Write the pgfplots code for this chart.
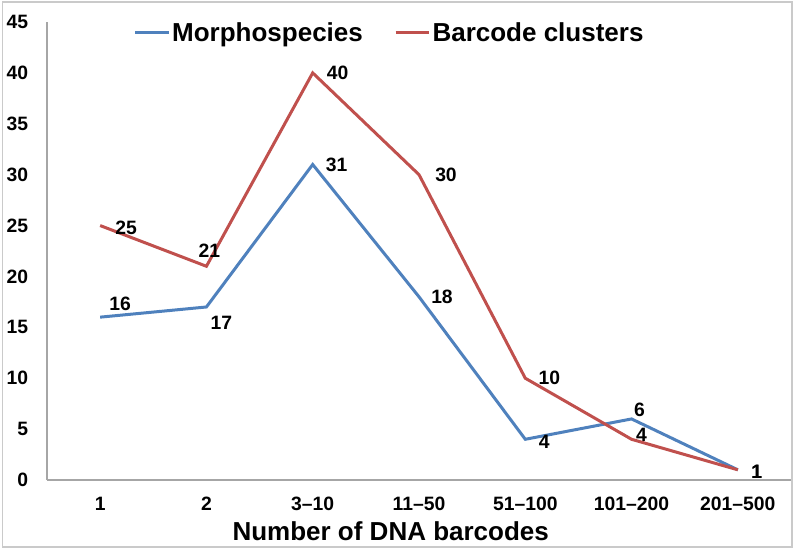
\documentclass[border=0pt]{standalone}
\usepackage{pgfplots}
\usepackage{pgfplotstable}
\pgfplotsset{compat=1.18}
\usepackage{fontspec}
\setmainfont{Liberation Sans}

\definecolor{exblue}{HTML}{4F81BD}
\definecolor{exred}{HTML}{C0504D}
\definecolor{axgray}{HTML}{A6A6A6}

% x = category index, y = count, dx/dy = label offset in pt
\pgfplotstableread{
x y dx dy
0 16 15 9.75
1 17 11.25 -12
2 31 18 0
3 18 17.25 0
4 4 14.25 -2.25
5 6 6 6.75
6 1 14.25 -1.5
}\morpho

\pgfplotstableread{
x y dx dy
0 25 19.5 -1.5
1 21 2.25 12
2 40 18.75 0
3 30 20.25 0
4 10 18 0
5 4 7.5 3
6 1 14.25 -1.5
}\barcode

\begin{document}
\begin{tikzpicture}
\useasboundingbox (0,0) rectangle (596.25pt,412.5pt);
\draw[axgray!60, line width=0.9pt] (2pt,2.25pt) rectangle (594pt,411pt);
\begin{axis}[
  at={(35.25pt,52.5pt)}, anchor=south west,
  scale only axis, width=558pt, height=343.5pt,
  xmin=-0.5, xmax=6.5, ymin=0, ymax=45,
  axis x line=bottom, axis y line=left,
  axis line style={axgray, line width=0.9pt, -},
  major tick length=0pt,
  xtick={0,...,6},
  xticklabels={1,2,3–10,11–50,51–100,101–200,201–500},
  ytick={0,5,...,45},
  /pgf/number format/assume math mode=true,
  tick label style={font=\bfseries\fontsize{14.5}{16}\selectfont},
  yticklabel style={anchor=east, inner sep=0pt, xshift=-14pt},
  xticklabel style={anchor=center, inner sep=0pt, yshift=-18pt},
  xlabel={Number of DNA barcodes},
  xlabel style={font=\bfseries\fontsize{19.5}{22}\selectfont,
    at={(axis description cs:0.462,-0.111)}, anchor=center},
  legend columns=2,
  legend style={draw=none, fill=none, at={(axis description cs:0.111,0.976)},
    anchor=west, font=\bfseries\fontsize{19.5}{22}\selectfont,
    /tikz/every even column/.append style={column sep=22pt},
    nodes={inner sep=1.5pt}},
  legend image code/.code={\draw[#1] (0pt,0pt) -- (25pt,0pt);},
  nodes near coords,
  point meta=explicit,
  visualization depends on={\thisrow{dx} \as \dx},
  visualization depends on={\thisrow{dy} \as \dy},
  every node near coord/.append style={anchor=center, black,
    font=\bfseries\fontsize{14.5}{16}\selectfont,
    xshift=\dx pt, yshift=\dy pt},
]
\addplot[exblue, line width=2.25pt, no marks] table[x=x, y=y, meta=y] {\morpho};
\addlegendentry{Morphospecies}
\addplot[exred, line width=2.25pt, no marks] table[x=x, y=y, meta=y] {\barcode};
\addlegendentry{Barcode clusters}
\end{axis}
\end{tikzpicture}
\end{document}
